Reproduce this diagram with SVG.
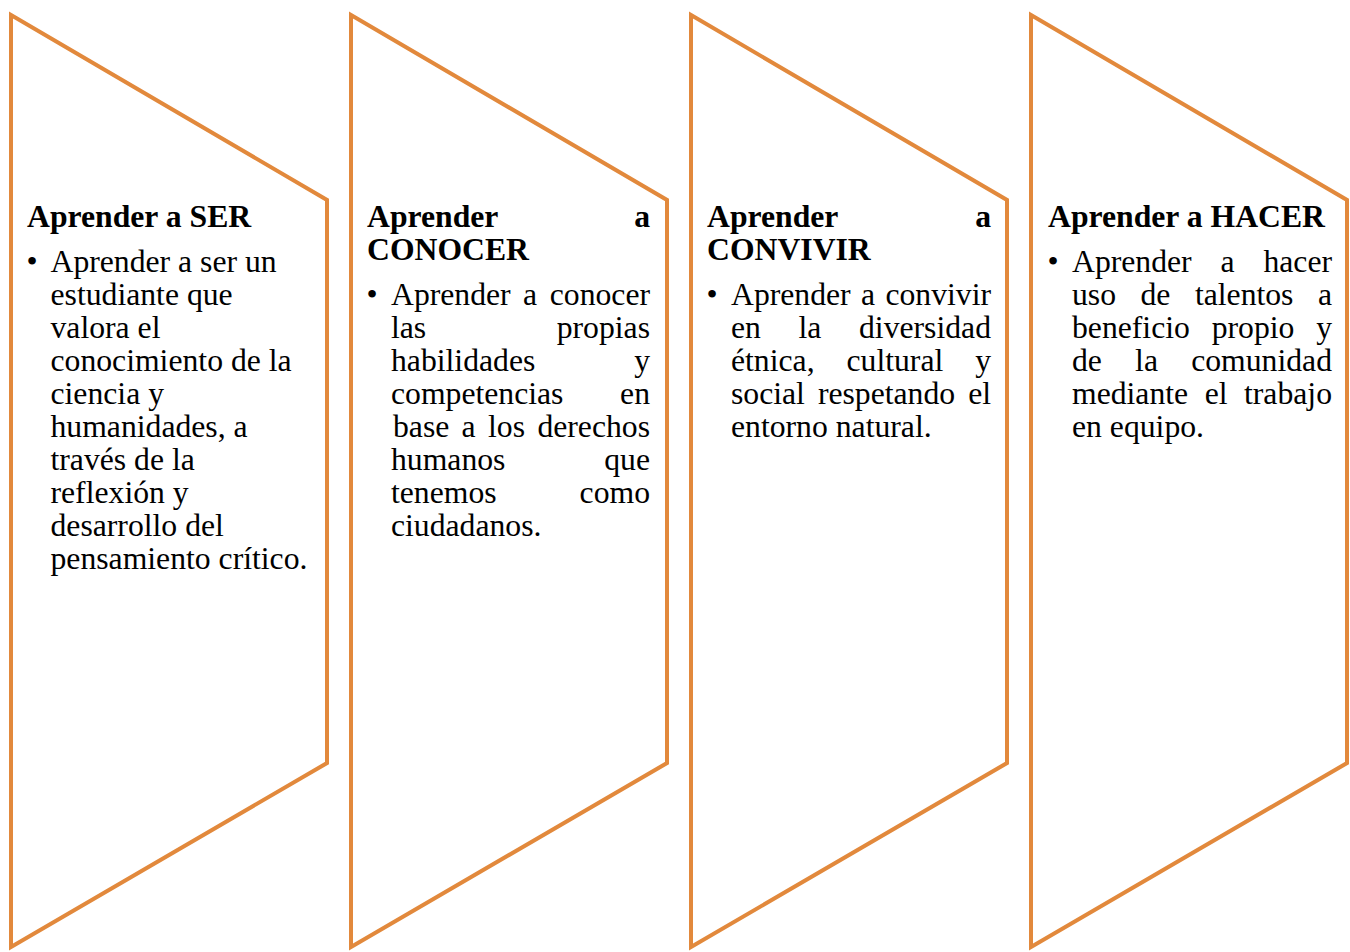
<svg xmlns="http://www.w3.org/2000/svg" width="1350" height="952" viewBox="0 0 1350 952">
<style>
.shape{fill:#ffffff;stroke:#E2893C;stroke-width:4;stroke-linejoin:miter}
.h{font-family:"Liberation Serif","Times New Roman",serif;font-size:31.7px;font-weight:bold;fill:#000}
.b{font-family:"Liberation Serif","Times New Roman",serif;font-size:31.7px;fill:#000}
.e{text-anchor:end}
</style>
<defs>
<polygon id="chev" points="11,15 327,200 327,763 11,947"/>
</defs>
<rect width="1350" height="952" fill="#ffffff"/>
<g id="connectors"></g>

<g id="node-ser">
<use href="#chev" class="shape"/>
<text class="h" x="27" y="227">Aprender a SER</text>
<text class="b" x="26.5" y="272">•</text>
<text class="b" x="50.5" y="272">Aprender a ser un</text>
<text class="b" x="50.5" y="305">estudiante que</text>
<text class="b" x="50.5" y="338">valora el</text>
<text class="b" x="50.5" y="371">conocimiento de la</text>
<text class="b" x="50.5" y="404">ciencia y</text>
<text class="b" x="50.5" y="437">humanidades, a</text>
<text class="b" x="50.5" y="470">través de la</text>
<text class="b" x="50.5" y="503">reflexión y</text>
<text class="b" x="50.5" y="536">desarrollo del</text>
<text class="b" x="50.5" y="569">pensamiento crítico.</text>
</g>

<g id="node-conocer">
<use href="#chev" class="shape" x="340"/>
<text class="h" x="367" y="227">Aprender</text>
<text class="h e" x="650" y="227">a</text>
<text class="h" x="367" y="260">CONOCER</text>
<text class="b" x="366.5" y="305">•</text>
<text class="b" x="391" y="305">Aprender</text>
<text class="b" x="523.1" y="305">a</text>
<text class="b e" x="650" y="305">conocer</text>
<text class="b" x="391" y="338">las</text>
<text class="b e" x="650" y="338">propias</text>
<text class="b" x="391" y="371">habilidades</text>
<text class="b e" x="650" y="371">y</text>
<text class="b" x="391" y="404">competencias</text>
<text class="b e" x="650" y="404">en</text>
<text class="b" x="393" y="437">base</text>
<text class="b" x="461.6" y="437">a</text>
<text class="b" x="488" y="437">los</text>
<text class="b e" x="650" y="437">derechos</text>
<text class="b" x="391" y="470">humanos</text>
<text class="b e" x="650" y="470">que</text>
<text class="b" x="391" y="503">tenemos</text>
<text class="b e" x="650" y="503">como</text>
<text class="b" x="391" y="536">ciudadanos.</text>
</g>

<g id="node-convivir">
<use href="#chev" class="shape" x="680"/>
<text class="h" x="707" y="227">Aprender</text>
<text class="h e" x="991" y="227">a</text>
<text class="h" x="707" y="260">CONVIVIR</text>
<text class="b" x="706.5" y="305">•</text>
<text class="b" x="731" y="305">Aprender</text>
<text class="b" x="861" y="305">a</text>
<text class="b e" x="991" y="305">convivir</text>
<text class="b" x="731" y="338">en</text>
<text class="b" x="798.5" y="338">la</text>
<text class="b e" x="991" y="338">diversidad</text>
<text class="b" x="731" y="371">étnica,</text>
<text class="b" x="846.5" y="371">cultural</text>
<text class="b e" x="991" y="371">y</text>
<text class="b" x="731" y="404">social</text>
<text class="b" x="817.9" y="404">respetando</text>
<text class="b e" x="991" y="404">el</text>
<text class="b" x="731" y="437">entorno natural.</text>
</g>

<g id="node-hacer">
<use href="#chev" class="shape" x="1020"/>
<text class="h" x="1048" y="227">Aprender a HACER</text>
<text class="b" x="1047.5" y="272">•</text>
<text class="b" x="1072" y="272">Aprender</text>
<text class="b" x="1220.5" y="272">a</text>
<text class="b e" x="1332" y="272">hacer</text>
<text class="b" x="1072" y="305">uso</text>
<text class="b" x="1140.5" y="305">de</text>
<text class="b" x="1194.9" y="305">talentos</text>
<text class="b e" x="1332" y="305">a</text>
<text class="b" x="1072" y="338">beneficio</text>
<text class="b" x="1211.7" y="338">propio</text>
<text class="b e" x="1332" y="338">y</text>
<text class="b" x="1072" y="371">de</text>
<text class="b" x="1135.1" y="371">la</text>
<text class="b e" x="1332" y="371">comunidad</text>
<text class="b" x="1072" y="404">mediante</text>
<text class="b" x="1204.7" y="404">el</text>
<text class="b e" x="1332" y="404">trabajo</text>
<text class="b" x="1072" y="437">en equipo.</text>
</g>
</svg>
